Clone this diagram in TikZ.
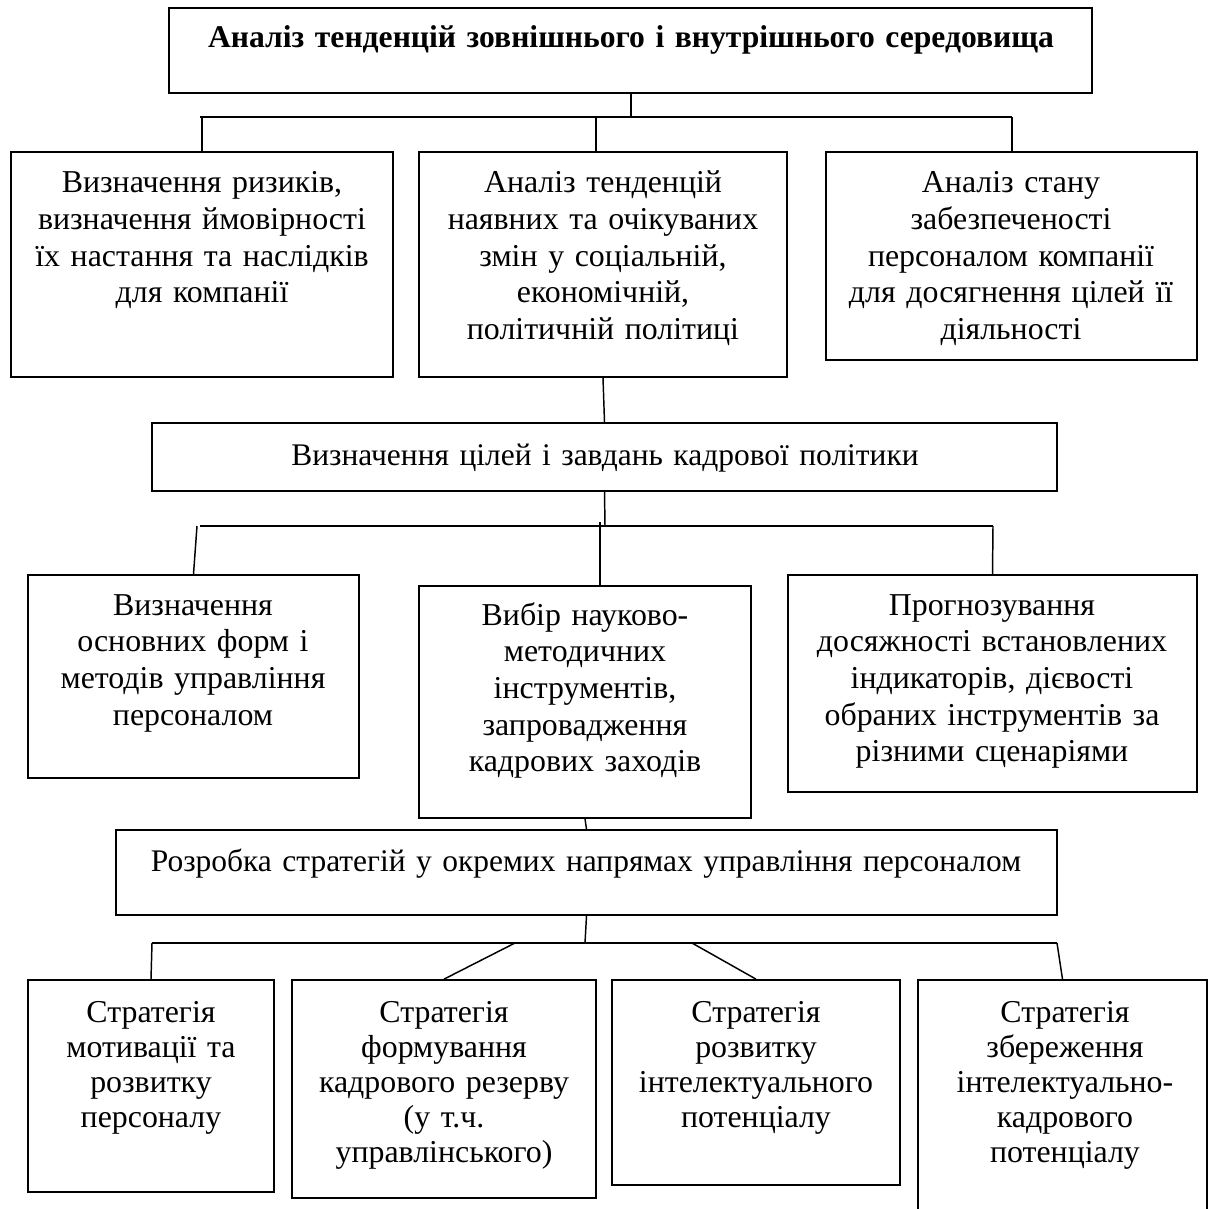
\documentclass[tikz,border=0pt]{standalone}
\usepackage{fontspec}
\setmainfont{Liberation Serif}
\usetikzlibrary{fit}
\begin{document}
\begin{tikzpicture}[x=0.75pt,y=-0.75pt,
  box/.style={draw, line width=1.3pt, inner sep=0pt},
  conn/.style={draw, line width=1.1pt},
  bus/.style={draw, line width=1.5pt},
  txt/.style={anchor=base, align=center, inner sep=0pt, text width=420pt,
    font=\fontsize{23.9}{27.5}\selectfont},
  txtb/.style={txt, font=\fontsize{23.9}{26.3}\selectfont},
  txtm/.style={txt, text width=800pt, font=\fontsize{23.6}{27}\selectfont},
  ttl/.style={txt, text width=800pt, font=\fontsize{23.7}{27}\selectfont\bfseries}]
\useasboundingbox (0,0) rectangle (1210,1209);
\clip (0,0) rectangle (1210,1209);
% boxes
\node[box, fit={(169,8) (1092,93)}] (top) {};
\node[box, fit={(11,152) (393,377)}] (b1) {};
\node[box, fit={(419,152) (787,377)}] (b2) {};
\node[box, fit={(826,152) (1197,360)}] (b3) {};
\node[box, fit={(152,423) (1057,491)}] (mid) {};
\node[box, fit={(28,575) (359,778)}] (bL) {};
\node[box, fit={(419,586) (751,818)}] (bM) {};
\node[box, fit={(788,575) (1197,792)}] (bR) {};
\node[box, fit={(116,830) (1057,915)}] (str) {};
\node[box, fit={(28,980) (274,1192)}] (s1b) {};
\node[box, fit={(292,980) (596,1198)}] (s2b) {};
\node[box, fit={(612,980) (900,1185)}] (s3b) {};
\node[box, fit={(918,980) (1207,1240)}] (s4b) {};
% texts
\node[ttl] (topt) at (631,48) {Аналіз тенденцій зовнішнього і внутрішнього середовища};
\node[txt] (b1t) at (202,193) {Визначення ризиків,\\визначення ймовірності\\їх настання та наслідків\\для компанії};
\node[txt] (b2t) at (603,193) {Аналіз тенденцій\\наявних та очікуваних\\змін у соціальній,\\економічній,\\політичній політиці};
\node[txt] (b3t) at (1011,193) {Аналіз стану\\забезпеченості\\персоналом компанії\\для досягнення цілей її\\діяльності};
\node[txtm] (midt) at (605,465) {Визначення цілей і завдань кадрової політики};
\node[txt] (bLt) at (193,615) {Визначення\\основних форм і\\методів управління\\персоналом};
\node[txt] (bMt) at (585,625) {Вибір науково-\\методичних\\інструментів,\\запровадження\\кадрових заходів};
\node[txt] (bRt) at (992,615) {Прогнозування\\досяжності встановлених\\індикаторів, дієвості\\обраних інструментів за\\різними сценаріями};
\node[txtm] (strt) at (586,871) {Розробка стратегій у окремих напрямах управління персоналом};
\node[txtb] (s1t) at (151,1022) {Стратегія\\мотивації та\\розвитку\\персоналу};
\node[txtb] (s2t) at (444,1022) {Стратегія\\формування\\кадрового резерву\\(у т.ч.\\управлінського)};
\node[txtb] (s3t) at (756,1022) {Стратегія\\розвитку\\інтелектуального\\потенціалу};
\node[txtb] (s4t) at (1065,1022) {Стратегія\\збереження\\інтелектуально-\\кадрового\\потенціалу};
% bus coordinates
\coordinate (j1) at (631,117);
\coordinate (h1l) at (200,117);
\coordinate (h1r) at (1012,117);
\coordinate (d1) at (202,117);
\coordinate (d2) at (596,117);
\coordinate (d3) at (1012,117);
\coordinate (j2) at (605,526);
\coordinate (h2l) at (200,526);
\coordinate (h2r) at (993,526);
\coordinate (e1) at (197,526);
\coordinate (e2) at (600,522);
\coordinate (e3) at (993,526);
\coordinate (j3) at (585,943);
\coordinate (h3l) at (152,943);
\coordinate (h3r) at (1057,943);
\coordinate (f1) at (152,943);
\coordinate (f2) at (515,943);
\coordinate (f3) at (692,943);
\coordinate (f4) at (1057,943);
% connectors
\draw[conn] (top.south -| j1) -- (j1);
\draw[bus] (h1l) -- (h1r);
\draw[conn] (d1) -- (d1 |- b1.north);
\draw[conn] (d2) -- (d2 |- b2.north);
\draw[conn] (d3) -- (d3 |- b3.north);
\draw[conn] (b2.south) -- (mid.north);
\draw[conn] (mid.south) -- (j2);
\draw[bus] (h2l) -- (h2r);
\draw[conn] (e1) -- (bL.north);
\draw[conn] (e2) -- (e2 |- bM.north);
\draw[conn] (e3) -- (bR.north);
\draw[conn] (bM.south) -- (str.north);
\draw[conn] (str.south) -- (j3);
\draw[bus] (h3l) -- (h3r);
\draw[conn] (f1) -- (s1b.north);
\draw[conn] (f2) -- (s2b.north);
\draw[conn] (f3) -- (s3b.north);
\draw[conn] (f4) -- (s4b.north);
\end{tikzpicture}
\end{document}
